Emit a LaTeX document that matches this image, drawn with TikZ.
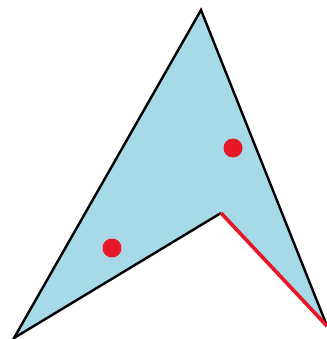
\documentclass[tikz,border=0pt]{standalone}
\usepackage{tikz}
\definecolor{DartBlue}{RGB}{166,218,232}
\definecolor{DotRed}{RGB}{232,22,38}
\tikzset{
  outline/.style={draw=black,line width=2.4pt,line join=miter},
  redside/.style={draw=DotRed,line width=3.6pt},
  dot/.style={circle,fill=DotRed,inner sep=0pt,minimum size=19pt}
}

\begin{document}
\begin{tikzpicture}[x=1pt,y=-1pt]
  \useasboundingbox (0,0) rectangle (326,339);
  \coordinate (top) at (201,10);
  \coordinate (left) at (14,338);
  \coordinate (inner) at (221,213);
  \coordinate (right) at (327,326);
  \fill[DartBlue] (top) -- (left) -- (inner) -- (right) -- cycle;
  \draw[outline] (inner) -- (left) -- (top) -- (right);
  \draw[redside] (inner) -- (right);
  \node[dot] (d1) at (233,148) {};
  \node[dot] (d2) at (112,248) {};
\end{tikzpicture}
\end{document}
